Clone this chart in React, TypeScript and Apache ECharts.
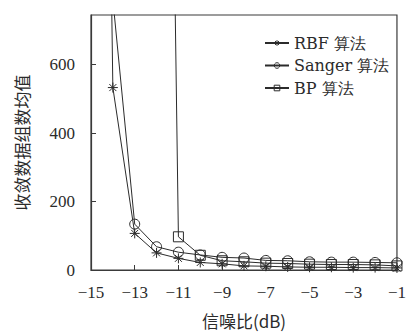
import React, { useEffect, useRef } from "react";
import * as echarts from "echarts";

const xValues = [-15, -14, -13, -12, -11, -10, -9, -8, -7, -6, -5, -4, -3, -2, -1];
const categories = xValues.map((v) => (v < 0 ? "\u2212" + Math.abs(v) : String(v)));

const rbfValues = [5000, 533, 107, 50, 34, 22, 18, 12, 11, 9, 8, 8, 7, 7, 6];
const sangerValues = [null, 790, 134, 68, 52, 44, 37, 35, 28, 27, 24, 23, 23, 22, 21];
const bpValues = [null, null, null, 4600, 97, 43, 27, 24, 20, 19, 17, 16, 16, 15, 12];

const seriesNames = ["RBF 算法", "Sanger 算法", "BP 算法"];
const yTickValues = [0, 200, 400, 600];

const INK = "#2b2b2b";
const cjk = "Noto Sans CJK SC";

const asterisk = "path://M-5,0L5,0M0,-5L0,5M-3.5,-3.5L3.5,3.5M-3.5,3.5L3.5,-3.5";

export default function App() {
  const ref = useRef<HTMLDivElement>(null);
  useEffect(() => {
    if (!ref.current) return;
    const chart = echarts.init(ref.current, null, { renderer: "svg" });
    const common = {
      type: "line",
      clip: true,
      lineStyle: { color: INK, width: 1 },
      connectNulls: false,
    };
    chart.setOption({
      animation: false,
      backgroundColor: "#fff",
      textStyle: { fontFamily: "Liberation Serif" },
      grid: {
        left: 91,
        right: 8,
        top: 15,
        bottom: 61,
        show: true,
        borderColor: "#3a3a3a",
        borderWidth: 1.2,
        backgroundColor: "transparent",
      },
      legend: {
        orient: "vertical",
        left: 259,
        top: 30,
        itemWidth: 24,
        itemHeight: 7,
        itemGap: 6.5,
        itemStyle: { borderWidth: 1 },
        textStyle: { fontFamily: "DejaVu Serif", fontSize: 16, color: INK, lineHeight: 16 },
        data: seriesNames,
      },
      xAxis: {
        type: "category",
        data: categories,
        boundaryGap: false,
        axisLine: { show: true, lineStyle: { color: "#3a3a3a", width: 1.2 } },
        axisTick: { show: true, inside: true, length: 5, interval: 1, alignWithLabel: true, lineStyle: { color: "#3a3a3a" } },
        axisLabel: { interval: 1, margin: 14, fontFamily: "Liberation Serif", fontSize: 17, color: INK },
        splitLine: { show: false },
        name: "信噪比(dB)",
        nameLocation: "middle",
        nameGap: 42,
        nameTextStyle: { fontFamily: cjk, fontSize: 17, color: INK },
      },
      yAxis: {
        type: "value",
        min: 0,
        max: 745,
        interval: 200,
        axisLine: { show: true, lineStyle: { color: "#3a3a3a", width: 1.2 } },
        axisTick: { show: true, inside: true, length: 5, lineStyle: { color: "#3a3a3a" } },
        axisLabel: {
          margin: 16,
          showMaxLabel: false,
          fontFamily: "Liberation Serif",
          fontSize: 17,
          color: INK,
          formatter: (v: number) => (yTickValues.includes(v) ? String(v) : ""),
        },
        splitLine: { show: false },
        name: "收敛数据组数均值",
        nameLocation: "middle",
        nameRotate: 90,
        nameGap: 61,
        nameTextStyle: { fontFamily: cjk, fontSize: 17, color: INK },
      },
      series: [
        {
          ...common,
          name: seriesNames[0],
          data: rbfValues,
          symbol: asterisk,
          symbolSize: 10,
          itemStyle: { color: INK, borderColor: INK, borderWidth: 1 },
        },
        {
          ...common,
          name: seriesNames[1],
          data: sangerValues,
          symbol: "circle",
          symbolSize: 10,
          itemStyle: { color: "rgba(255,255,255,0)", borderColor: INK, borderWidth: 1 },
        },
        {
          ...common,
          name: seriesNames[2],
          data: bpValues,
          symbol: "rect",
          symbolSize: 10,
          itemStyle: { color: "rgba(255,255,255,0)", borderColor: INK, borderWidth: 1 },
        },
      ],
    });
    return () => chart.dispose();
  }, []);
  return (
    <div
      ref={ref}
      style={{ position: "absolute", left: 0, top: 0, width: 409, height: 334 }}
    />
  );
}
